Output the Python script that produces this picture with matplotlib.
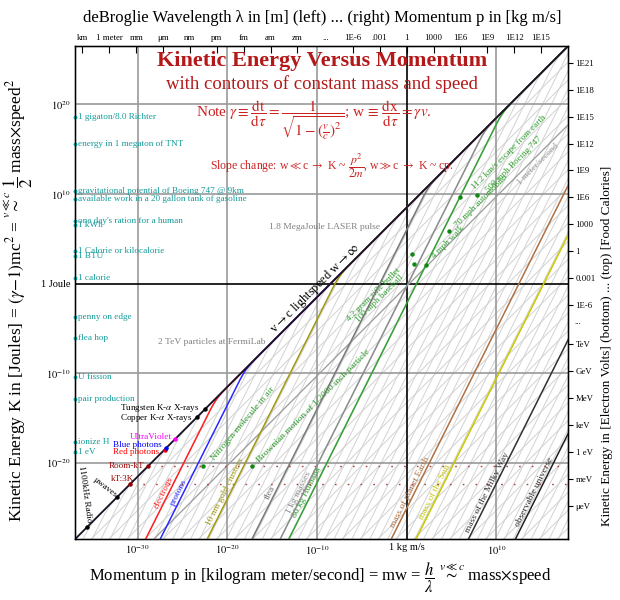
import numpy as np
import matplotlib
matplotlib.use('Agg')
import matplotlib.pyplot as plt
from matplotlib.ticker import NullLocator

plt.rcParams['font.family'] = ['Liberation Serif', 'DejaVu Serif']
plt.rcParams['mathtext.fontset'] = 'stix'

c = 2.998e8
h = 6.626e-34
eV = 1.602e-19
kB = 1.381e-23
Cal = 4184.0

# plot extent in decades
xlo, xhi = -37.0, 18.0
ylo, yhi = -28.5, 26.5

# light background contours (kg, and proper speed m/s)
grid_masses = 10.0 ** np.arange(-46, 66, 2)
grid_speeds = 10.0 ** np.arange(-47, 9, 2)

# highlighted constant-mass contours
mass_names = ['electrons', 'protons', '10 nm gold clusters', 'flea', '1 kg masses', '80 kg Humans',
              'mass of planet Earth', 'mass of the Sun', 'mass of the Milky Way', 'observable universe']
mass_values = [9.109e-31, 1.673e-27, 5e-17, 5e-7, 1.0, 80.0, 5.97e24, 1.99e30, 1e42, 3e52]
mass_colors = ['#ff2020', '#2a2aff', '#a09a10', '#777777', '#8c8c8c', '#33a033',
               '#b07040', '#c8c800', '#333333', '#222222']

# photons on the lightspeed line (Joules)
photon_names = ['1100kHz Radio', 'μwaves', 'kT:3K', 'Room-kT', 'Red photons', 'Blue photons',
                'UltraViolet', 'Copper K-$\\alpha$ X-rays', 'Tungsten K-$\\alpha$ X-rays']
photon_E = [7.3e-28, 1.6e-24, 4.14e-23, 4.07e-21, 2.9e-19, 4.4e-19, 4.3e-18, 1.29e-15, 9.5e-15]
photon_colors = ['k', 'k', '#990000', '#990000', '#ff0000', '#0000ff', '#ff00ff', 'k', 'k']

# everyday objects (kg, m/s)
obj_names = ['4.2 gram rifle bullet', '100 mph baseball', '4 mph walk', '70 mph automobile',
             '500 mph Boeing 747', '11.2 km/s escape from earth']
obj_mass = [0.0042, 0.145, 80.0, 1500.0, 3.4e5, 80.0]
obj_speed = [950.0, 44.7, 1.79, 31.3, 223.0, 11200.0]

# thermal motion at room temperature (kg)
thermal_names = ['Nitrogen molecule in air', 'Brownian motion of 1/2000 inch particle']
thermal_mass = [4.65e-26, 3.4e-15]

# reference energies on the left (Joules)
ref_names = ['1 gigaton/8.0 Richter', 'energy in 1 megaton of TNT',
             'gravitational potential of Boeing 747 @ 9km',
             'available work in a 20 gallon tank of gasoline', "one day's ration for a human",
             '1 kWh', '1 Calorie or kilocalorie', '1 BTU', '1 calorie', 'penny on edge',
             'flea hop', 'U fission', 'pair production', 'ionize H', '1 eV']
ref_E = [4.184e18, 4.184e15, 1.9e10, 2.7e9, 1.0e7, 3.6e6, 4184, 1055, 4.184, 1.9e-4,
         9e-7, 3.7e-11, 1.44e-13, 2.18e-18, 1.602e-19]

# labels along the lightspeed line (Joules)
beam_names = ['2 TeV particles at FermiLab', '1.8 MegaJoule LASER pulse']
beam_E = [3.2e-7, 1.8e6]

# axis ticks
x_ticks = [1e-30, 1e-20, 1e-10, 1.0, 1e10]
x_labels = ['$10^{-30}$', '$10^{-20}$', '$10^{-10}$', '1 kg m/s', '$10^{10}$']
y_ticks = [1e20, 1e10, 1.0, 1e-10, 1e-20]
y_labels = ['$10^{20}$', '$10^{10}$', '1 Joule', '$10^{-10}$', '$10^{-20}$']
wave_names = ['km', '1 meter', 'mm', 'μm', 'nm', 'pm', 'fm', 'am', 'zm']
wave_lengths = [1e3, 1.0, 1e-3, 1e-6, 1e-9, 1e-12, 1e-15, 1e-18, 1e-21]
mom_names = ['1E-6', '.001', '1', '1000', '1E6', '1E9', '1E12', '1E15']
mom_values = [1e-6, 1e-3, 1.0, 1e3, 1e6, 1e9, 1e12, 1e15]
cal_names = ['1E21', '1E18', '1E15', '1E12', '1E9', '1E6', '1000', '1', '0.001', '1E-6']
cal_values = [1e21, 1e18, 1e15, 1e12, 1e9, 1e6, 1e3, 1.0, 1e-3, 1e-6]
ev_names = ['TeV', 'GeV', 'MeV', 'keV', '1 eV', 'meV', 'μeV']
ev_values = [1e12, 1e9, 1e6, 1e3, 1.0, 1e-3, 1e-6]


def mass_K(m, p):
    return p ** 2 / (m * (np.sqrt(1 + (p / (m * c)) ** 2) + 1))


def speed_K(w, p):
    gamma = np.sqrt(1 + (w / c) ** 2)
    return p * w / (gamma + 1)


fig = plt.figure(figsize=(6.2, 6.0), dpi=100)
ax = fig.add_axes([75 / 620, 61 / 600, 493 / 620, 493 / 600])
ax.set_xscale('log')
ax.set_yscale('log')
ax.set_xlim(10 ** xlo, 10 ** xhi)
ax.set_ylim(10 ** ylo, 10 ** yhi)

p = np.logspace(xlo - 1, xhi + 1, 900)

for m in grid_masses:
    ax.plot(p, mass_K(m, p), color='#d2d2d2', lw=0.7, zorder=1)
for w in grid_speeds:
    ax.plot(p, speed_K(w, p), color='#d2d2d2', lw=0.7, zorder=1)

# decade grid
for e in [-30, -20, -10, 10]:
    ax.axvline(10.0 ** e, color='#9a9a9a', lw=1.2, zorder=2)
for e in [20, 10, -10, -20]:
    ax.axhline(10.0 ** e, color='#9a9a9a', lw=1.2, zorder=2)
ax.axvline(1.0, color='k', lw=1.2, zorder=2)
ax.axhline(1.0, color='k', lw=1.2, zorder=2)

# 1 m/s contour
ax.plot(p, speed_K(1.0, p), color='#9a9a9a', lw=0.9, zorder=3)
pl = 10 ** 14.2
ax.annotate('1 meter/second', xy=(pl, speed_K(1.0, pl)), xytext=(4, -5), textcoords='offset pixels',
            rotation=45, rotation_mode='anchor', ha='center', va='center', fontsize=6.5, color='#9a9a9a')

# highlighted masses
for name, m, col in zip(mass_names, mass_values, mass_colors):
    ax.plot(p, mass_K(m, p), color=col, lw=1.1, zorder=4)
    Kl = 10 ** -23.6
    pl = np.sqrt(2 * m * Kl)
    ax.annotate(name, xy=(pl, Kl), xytext=(0, 1), textcoords='offset pixels', rotation=63.4,
                rotation_mode='anchor', ha='center', va='bottom', fontsize=6.8, color=col)

# lightspeed
ax.plot(p, p * c, color='#1c1228', lw=1.3, zorder=5)
pl = 10 ** -9.6
ax.annotate('v$\\rightarrow$c lightspeed w$\\rightarrow\\infty$', xy=(pl, pl * c), xytext=(-5, 5),
            textcoords='offset pixels', rotation=45, rotation_mode='anchor', ha='center', va='center',
            fontsize=9, color='k')

# photons
ph_offsets = [(-2, 33), (-13, 9), (-8, 5), (-4, 0), (-5, -2), (-4, 3), (-3, 2), (-5, -1), (-5, 1)]
ph_rot = [-82, -38, 0, 0, 0, 0, 0, 0, 0]
ph_ha = ['center', 'center', 'center', 'right', 'right', 'right', 'right', 'right', 'right']
for name, E, col, off, rot, ha in zip(photon_names, photon_E, photon_colors, ph_offsets, ph_rot, ph_ha):
    ax.plot(E / c, E, 'o', ms=2.2, color=col, zorder=6)
    ax.annotate(name, xy=(E / c, E), xytext=off, textcoords='offset pixels', rotation=rot,
                rotation_mode='anchor', ha=ha, va='center', fontsize=6.6, color=col)

# thermal dotted lines
for E in photon_E[2:4]:
    ax.plot([E / c, 10 ** xhi], [E, E], color='#b04040', lw=1.0, ls=(0, (1.2, 8)), zorder=3)

green = '#2f9f2f'
kT = photon_E[3]
th_offsets = [(10, 7), (6, 5)]
th_rot = [50, 45]
for name, m, off, rot in zip(thermal_names, thermal_mass, th_offsets, th_rot):
    pt = np.sqrt(2 * m * kT)
    ax.plot(pt, kT, 'o', ms=2.2, color='#118811', zorder=6)
    ax.annotate(name, xy=(pt, kT), xytext=off, textcoords='offset pixels', rotation=rot,
                rotation_mode='anchor', ha='left', va='center', fontsize=6.8, color=green)

obj_offsets = [(-13, -15), (-12, -12), (7, 7), (8, 5), (10, 3), (13, 8)]
obj_ha = ['right', 'right', 'left', 'left', 'left', 'left']
for name, m, v, off, ha in zip(obj_names, obj_mass, obj_speed, obj_offsets, obj_ha):
    po = m * v
    Ko = 0.5 * m * v ** 2
    ax.plot(po, Ko, 'o', ms=2.2, color='#118811', zorder=6)
    ax.annotate(name, xy=(po, Ko), xytext=off, textcoords='offset pixels', rotation=45,
                rotation_mode='anchor', ha=ha, va='center', fontsize=6.5, color=green)

# beams
for name, E in zip(beam_names, beam_E):
    ax.annotate(name, xy=(E / c, E), xytext=(-7, 0), textcoords='offset pixels', ha='right',
                va='center', fontsize=6.8, color='#808080')

# reference energies
teal = '#129a9a'
for name, E in zip(ref_names, ref_E):
    ax.plot(10 ** xlo, E, 'o', ms=1.8, color=teal, clip_on=False, zorder=6)
    ax.annotate(name, xy=(10 ** xlo, E), xytext=(3, 0), textcoords='offset pixels', ha='left',
                va='center', fontsize=6.6, color=teal)

# main axes ticks
ax.xaxis.set_minor_locator(NullLocator())
ax.yaxis.set_minor_locator(NullLocator())
ax.set_xticks(x_ticks)
ax.set_xticklabels(x_labels, fontsize=7.5)
ax.set_yticks(y_ticks)
ax.set_yticklabels(y_labels, fontsize=7.5)
ax.tick_params(length=0, pad=3)
for s in ax.spines.values():
    s.set_linewidth(1.0)

# top: wavelength / momentum
axt = ax.twiny()
axt.set_xscale('log')
axt.set_xlim(10 ** xlo, 10 ** xhi)
axt.xaxis.set_minor_locator(NullLocator())
axt.set_xticks([h / lam for lam in wave_lengths] + mom_values)
axt.set_xticklabels(wave_names + mom_names, fontsize=6.3)
axt.tick_params(axis='x', direction='in', length=5, pad=3)
axt.annotate('...', xy=(1e-9, 1), xycoords=('data', 'axes fraction'), xytext=(0, 4),
             textcoords='offset pixels', ha='center', va='bottom', fontsize=6.3)

# right: food calories / electron volts
axr = ax.twinx()
axr.set_yscale('log')
axr.set_ylim(10 ** ylo, 10 ** yhi)
axr.yaxis.set_minor_locator(NullLocator())
axr.set_yticks([v * Cal for v in cal_values] + [v * eV for v in ev_values])
axr.set_yticklabels(cal_names + ev_names, fontsize=6.3)
axr.tick_params(axis='y', direction='out', length=3.5, pad=2)
axr.annotate('...', xy=(1, 10 ** -4.3), xycoords=('axes fraction', 'data'), xytext=(6, 0),
             textcoords='offset pixels', ha='left', va='center', fontsize=6.3)

# titles and axis labels
red = '#b41818'
fig.text(322 / 620, 1 - 61 / 600, 'Kinetic Energy Versus Momentum', ha='center', va='center',
         fontsize=16, fontweight='bold', color=red)
fig.text(322 / 620, 1 - 84 / 600, 'with contours of constant mass and speed', ha='center', va='center',
         fontsize=13.5, color=red)
fig.text(196 / 620, 1 - 120 / 600,
         r'Note $\gamma\equiv\dfrac{\mathrm{dt}}{\mathrm{d}\tau}=\dfrac{1}{\sqrt{1-\left(\frac{v}{c}\right)^2}}$; '
         r'w$\,\equiv\,\dfrac{\mathrm{dx}}{\mathrm{d}\tau}=\gamma v$.',
         ha='left', va='center', fontsize=11, color='#cc2222')
fig.text(210 / 620, 1 - 166 / 600,
         r'Slope change: w$\ll$c $\rightarrow$ K ~ $\dfrac{p^2}{2m}$, w$\gg$c $\rightarrow$ K ~ cp.',
         ha='left', va='center', fontsize=8.5, color='#cc2222')
fig.text(322 / 620, 1 - 18 / 600,
         'deBroglie Wavelength λ in [m] (left) ... (right) Momentum p in [kg m/s]',
         ha='center', va='center', fontsize=12)
fig.text(320 / 620, 1 - 578 / 600,
         r'Momentum p in [kilogram meter/second] = mw = $\dfrac{h}{\lambda}$ $\overset{v\ll c}{\sim}$ mass$\times$speed',
         ha='center', va='center', fontsize=12)
fig.text(18 / 620, 0.5,
         r'Kinetic Energy K in [Joules] = $(\gamma{-}1)$mc$^2$ = $\overset{v\ll c}{\sim}$ $\dfrac{1}{2}$ mass$\times$speed$^2$',
         ha='center', va='center', rotation=90, fontsize=12.5)
fig.text(607 / 620, 1 - 346 / 600,
         'Kinetic Energy in [Electron Volts] (bottom) ... (top) [Food Calories]',
         ha='center', va='center', rotation=90, fontsize=9.5)

fig.savefig('out.png', dpi=100)
